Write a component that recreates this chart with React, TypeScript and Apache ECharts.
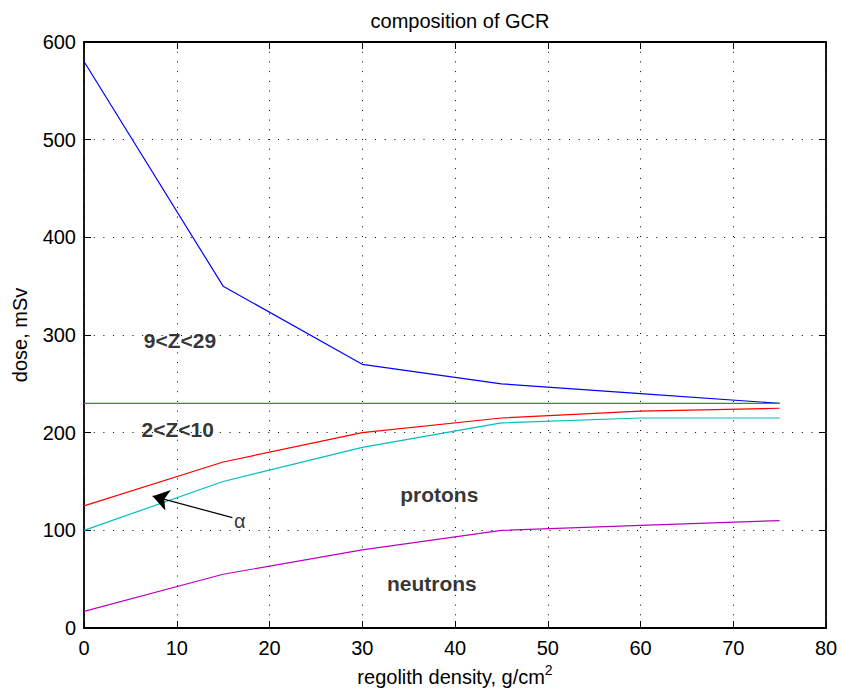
import React, { useEffect, useRef } from "react";
import * as echarts from "echarts";

const depth = [0, 15, 30, 45, 60, 75];
const heavy = [580, 350, 270, 250, 240, 230];
const total = [230, 230, 230, 230, 230, 230];
const medium = [125, 170, 200, 215, 222, 225];
const alpha = [100, 150, 185, 210, 215, 215];
const neutrons = [17, 55, 80, 100, 105, 110];

const labelNames = ["9<Z<29", "2<Z<10", "protons", "neutrons"];
const labelX = [10.35, 10.1, 38.3, 37.5];
const labelY = [294, 203, 137, 46];
const alphaText = { x: 16.8, y: 109.6, text: "α" };
const arrowFrom = [16, 113];
const arrowTo = [7.4, 135];

const FONT = "'Liberation Sans', Arial, Helvetica, sans-serif";

export default function App() {
  const ref = useRef<HTMLDivElement>(null);
  useEffect(() => {
    const chart = echarts.init(ref.current!, null, { renderer: "svg" });
    const pts = (ys: number[]) => depth.map((x, i) => [x, ys[i]]);
    const lineSeries = (name: string, ys: number[], color: string) => ({
      name,
      type: "line",
      data: pts(ys),
      showSymbol: false,
      symbol: "none",
      lineStyle: { color, width: 1.2 },
      z: 3,
    });
    const axisCommon = {
      axisLine: { show: true, onZero: false, lineStyle: { color: "#000", width: 1.8 } },
      axisTick: { show: true, inside: true, length: 7, lineStyle: { color: "#000", width: 1 } },
    };
    const gridLine = { show: true, lineStyle: { color: "#000", type: [1, 8.7], width: 1 } };
    chart.setOption({
      animation: false,
      backgroundColor: "#fff",
      title: {
        text: "composition of GCR",
        left: 455,
        textAlign: "center",
        top: 6,
        textStyle: { fontFamily: FONT, fontSize: 20, fontWeight: "normal", color: "#000" },
      },
      grid: { left: 84, right: 16, top: 42, bottom: 63, containLabel: false, outerBoundsMode: "none" },
      xAxis: [
        {
          type: "value",
          min: 0,
          max: 80,
          interval: 10,
          ...axisCommon,
          axisLabel: { color: "#000", fontFamily: FONT, fontSize: 20, margin: 10 },
          splitLine: gridLine,
          name: "regolith density, g/cm{sup|2}",
          nameLocation: "middle",
          nameGap: 35,
          nameTextStyle: {
            color: "#000",
            fontFamily: FONT,
            fontSize: 20,
            rich: { sup: { fontSize: 14, verticalAlign: "top", padding: [0, 0, 14, 0], fontFamily: FONT, color: "#000" } },
          },
        },
        {
          type: "value",
          position: "top",
          min: 0,
          max: 80,
          interval: 10,
          ...axisCommon,
          axisLabel: { show: false },
          splitLine: { show: false },
        },
      ],
      yAxis: [
        {
          type: "value",
          min: 0,
          max: 600,
          interval: 100,
          ...axisCommon,
          axisLabel: { color: "#000", fontFamily: FONT, fontSize: 20, margin: 8 },
          splitLine: gridLine,
          name: "dose, mSv",
          nameLocation: "middle",
          nameGap: 54,
          nameTextStyle: { color: "#000", fontFamily: FONT, fontSize: 20 },
        },
        {
          type: "value",
          position: "right",
          min: 0,
          max: 600,
          interval: 100,
          ...axisCommon,
          axisLabel: { show: false },
          splitLine: { show: false },
        },
      ],
      series: [
        lineSeries("9<Z<29", heavy, "#0000ff"),
        lineSeries("total", total, "#1f9f1f"),
        lineSeries("2<Z<10", medium, "#ff0000"),
        {
          ...lineSeries("alpha", alpha, "#00bfbf"),
          markLine: {
            silent: true,
            symbol: ["none", "arrow"],
            symbolSize: 16,
            label: { show: false },
            lineStyle: { color: "#000", type: "solid", width: 1.2 },
            data: [[{ coord: arrowFrom }, { coord: arrowTo }]],
          },
        },
        lineSeries("neutrons", neutrons, "#bf00bf"),
        {
          type: "scatter",
          symbolSize: 0,
          z: 5,
          silent: true,
          itemStyle: { color: "#000" },
          data: labelNames.map((n, i) => ({ value: [labelX[i], labelY[i]], name: n })),
          label: {
            show: true,
            position: "inside",
            formatter: (p: any) => p.name,
            color: "#000",
            textBorderWidth: 0,
            textBorderColor: "transparent",
            fontFamily: FONT,
            fontSize: 21,
            fontWeight: "bold",
          },
        },
        {
          type: "scatter",
          symbolSize: 0,
          z: 5,
          silent: true,
          itemStyle: { color: "#000" },
          data: [{ value: [alphaText.x, alphaText.y], name: alphaText.text }],
          label: {
            show: true,
            position: "inside",
            formatter: (p: any) => p.name,
            color: "#000",
            textBorderWidth: 0,
            textBorderColor: "transparent",
            fontFamily: FONT,
            fontSize: 20,
          },
        },
      ],
    });
    return () => chart.dispose();
  }, []);
  return <div ref={ref} style={{ width: 842, height: 691, position: "absolute", left: 0, top: 0 }} />;
}
